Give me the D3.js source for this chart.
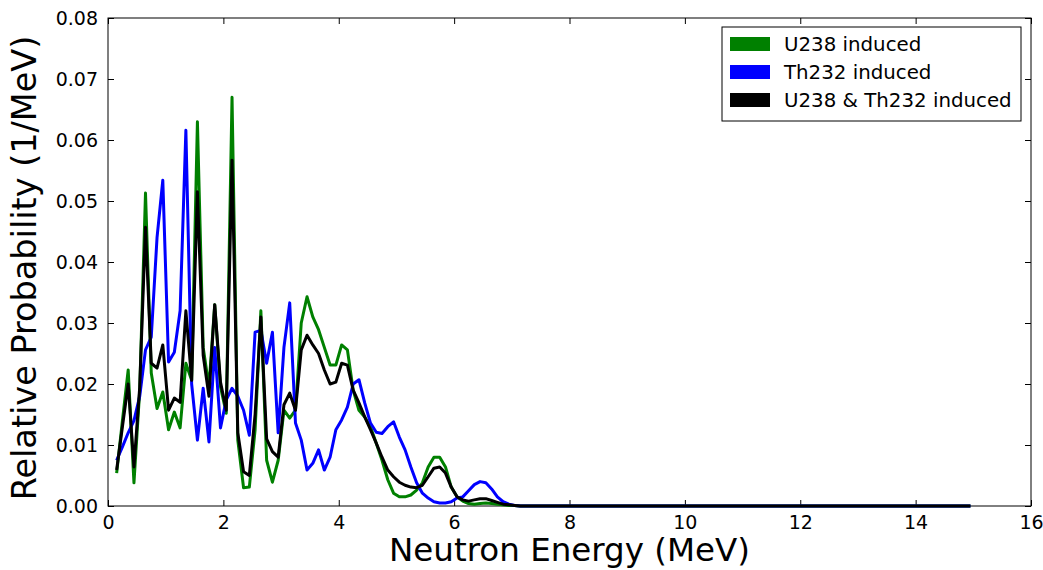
<!DOCTYPE html>
<html><head><meta charset="utf-8">
<script src="https://cdn.jsdelivr.net/npm/d3@7"></script>
<style>body{margin:0;background:#fff;font-family:"DejaVu Sans",sans-serif}</style>
</head><body><svg id="chart" width="1043" height="570"></svg>
<script>
const energyStart = 0.15, energyStep = 0.1;
const u238 = [0.0054,0.014,0.0223,0.0038,0.019,0.0513,0.0218,0.016,0.0187,0.0125,0.0154,0.0128,0.0234,0.0206,0.063,0.026,0.0195,0.033,0.0195,0.0152,0.067,0.0108,0.003,0.0031,0.0125,0.032,0.0075,0.0039,0.0075,0.0157,0.0144,0.0157,0.030,0.0343,
  0.031,0.0289,0.026,0.0231,0.0231,0.0264,0.0256,0.019,0.0157,0.0146,0.013,0.0103,0.0075,0.0043,0.0021,0.0015,0.0015,0.0018,0.0026,0.0038,0.0064,0.008,0.008,0.0064,0.0031,0.0015,
  0.0008,0.0004,0.0003,0.0004,0.0005,0.0004,0.0003,0.0002,0.0001,0.0001,
  0,0,0,0,0,0,0,0,0,0,0,0,0,0,0,0,0,0,0,0,0,0,0,0,0,0,0,0,0,0,0,0,0,0,0,0,0,0,0,0,0,0,0,0,0,0,0,0,0,0,0,0,0,0,0,0,0,0,0,0,0,0,0,0,0,0,0,0,0,0,0,0,0,0,0,0,0,0,0];
const th232 = [0.0075,0.0097,0.012,0.014,0.018,0.0256,0.0277,0.044,0.0534,0.0236,0.0252,0.032,0.0616,0.020,0.0108,0.0193,0.0105,0.026,0.0128,0.0174,0.0193,0.018,0.0157,0.0116,0.0285,0.0288,0.0234,0.0285,0.012,0.026,0.0333,0.0136,0.0108,0.0059,
  0.007,0.0092,0.0059,0.008,0.0125,0.0141,0.0162,0.020,0.0207,0.0169,0.0136,0.0121,0.0119,0.013,0.0138,0.0113,0.0092,0.0064,0.0038,0.0021,0.0013,0.0007,0.0005,0.0005,0.0007,0.0013,
  0.0015,0.0025,0.0035,0.0040,0.0038,0.0028,0.0015,0.0007,0.0003,0.0001,
  0,0,0,0,0,0,0,0,0,0,0,0,0,0,0,0,0,0,0,0,0,0,0,0,0,0,0,0,0,0,0,0,0,0,0,0,0,0,0,0,0,0,0,0,0,0,0,0,0,0,0,0,0,0,0,0,0,0,0,0,0,0,0,0,0,0,0,0,0,0,0,0,0,0,0,0,0,0,0];
const combined = [0.0059,0.013,0.020,0.0064,0.0195,0.0457,0.0234,0.0226,0.0264,0.0157,0.0177,0.017,0.032,0.0206,0.0515,0.0247,0.018,0.033,0.0203,0.0157,0.0567,0.012,0.0056,0.005,0.015,0.031,0.011,0.0089,0.008,0.0166,0.0185,0.0157,0.0256,0.028,
  0.0264,0.025,0.0223,0.020,0.0203,0.0234,0.0231,0.019,0.0169,0.0146,0.0125,0.0103,0.008,0.0059,0.0048,0.0039,0.0034,0.0031,0.0030,0.0034,0.0048,0.0062,0.0064,0.0054,0.0031,0.0015,
  0.001,0.0008,0.0010,0.0012,0.0012,0.0009,0.0006,0.0003,0.0002,0.0001,
  0,0,0,0,0,0,0,0,0,0,0,0,0,0,0,0,0,0,0,0,0,0,0,0,0,0,0,0,0,0,0,0,0,0,0,0,0,0,0,0,0,0,0,0,0,0,0,0,0,0,0,0,0,0,0,0,0,0,0,0,0,0,0,0,0,0,0,0,0,0,0,0,0,0,0,0,0,0,0];
const xTicks = [0,2,4,6,8,10,12,14,16];
const yTicks = [0,0.01,0.02,0.03,0.04,0.05,0.06,0.07,0.08];
const seriesNames = ["U238 induced","Th232 induced","U238 & Th232 induced"];
const colors = ["#008000","#0000ff","#000000"];

const margin = {top: 18, right: 12, bottom: 64, left: 108},
    width = 1043 - margin.left - margin.right,
    height = 570 - margin.top - margin.bottom;

const svg = d3.select("#chart").append("g")
    .attr("transform", `translate(${margin.left},${margin.top})`);

const x = d3.scaleLinear().domain([0, 16]).range([0, width]);
const y = d3.scaleLinear().domain([0, 0.08]).range([height, 0]);

svg.append("g").attr("transform", `translate(0,${height})`)
    .call(d3.axisBottom(x).tickValues(xTicks).tickFormat(d3.format("d")).tickSizeInner(-6).tickSizeOuter(0).tickPadding(10));
svg.append("g")
    .call(d3.axisLeft(y).tickValues(yTicks).tickFormat(d3.format(".2f")).tickSizeInner(-6).tickSizeOuter(0).tickPadding(10));
// mirrored ticks on top/right
svg.append("g").call(d3.axisTop(x).tickValues(xTicks).tickFormat("").tickSizeInner(-6).tickSizeOuter(0));
svg.append("g").attr("transform", `translate(${width},0)`)
    .call(d3.axisRight(y).tickValues(yTicks).tickFormat("").tickSizeInner(-6).tickSizeOuter(0));
svg.selectAll(".domain").remove();
svg.selectAll(".tick text").attr("font-size", 19).attr("font-family", "DejaVu Sans").attr("fill", "#000");
svg.selectAll(".tick line").attr("stroke", "#000");
svg.append("rect").attr("width", width).attr("height", height)
    .attr("fill", "none").attr("stroke", "#000").attr("stroke-width", 1);

const line = d3.line().x((d, i) => x(energyStart + energyStep * i)).y(d => y(d));
[u238, th232, combined].forEach((s, k) => {
  svg.append("path").datum(s).attr("d", line)
     .attr("fill", "none").attr("stroke", colors[k]).attr("stroke-width", 3).attr("stroke-linejoin", "round");
});

svg.append("text").attr("x", width / 2).attr("y", height + 55).attr("text-anchor", "middle")
   .attr("font-size", 32.5).text("Neutron Energy (MeV)");
svg.append("text").attr("transform", `translate(${-72},${height / 2 + 6}) rotate(-90)`).attr("text-anchor", "middle")
   .attr("font-size", 33.5).text("Relative Probability (1/MeV)");

const lg = svg.append("g").attr("transform", `translate(${614},${9})`);
lg.append("rect").attr("width", 299).attr("height", 94).attr("fill", "#fff").attr("stroke", "#000");
seriesNames.forEach((n, k) => {
  lg.append("rect").attr("x", 8).attr("y", 10 + k * 28).attr("width", 40).attr("height", 14).attr("fill", colors[k]);
  lg.append("text").attr("x", 62).attr("y", 24 + k * 28).attr("font-size", 19.8).text(n);
});
</script></body></html>
